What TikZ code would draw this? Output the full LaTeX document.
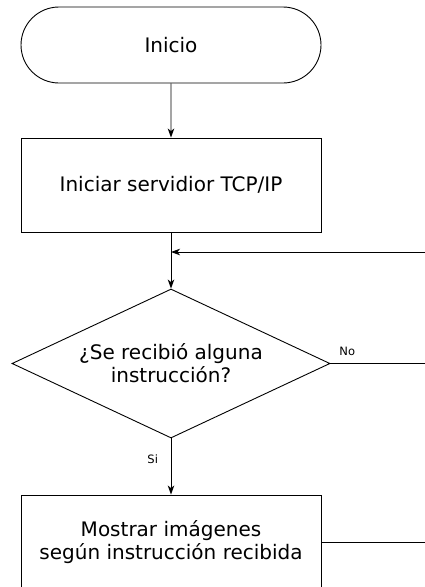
\documentclass[tikz,border=0pt]{standalone}
\usepackage{fontspec}
\setmainfont{DejaVu Sans}
\usetikzlibrary{arrows.meta,shapes.geometric,shapes.misc}

\begin{document}
\begin{tikzpicture}[x=1pt,y=-1pt,
  line width=0.9pt,
  every node/.style={inner sep=0pt},
  txt/.style={font=\fontsize{20}{23}\selectfont, align=center},
  terminal/.style={rounded rectangle, draw, txt, minimum width=300pt, minimum height=76pt},
  process/.style={rectangle, draw, txt, minimum width=300pt, minimum height=94pt},
  decision/.style={diamond, draw, txt, shape aspect=2.134, minimum width=318pt, minimum height=149pt},
  flow/.style={-{Stealth[length=9pt,width=6.5pt,inset=2.5pt]}},
  lbl/.style={font=\fontsize{11.5}{13}\selectfont}
]
\useasboundingbox (0,0) rectangle (425,587);
\clip (0,0) rectangle (425,587);

% flowchart blocks
\node[terminal] (start) at (171,45)    {Inicio};
\node[process]  (init)  at (171,185)   {Iniciar servidior TCP/IP};
\node[decision] (ask)   at (171,363.5) {¿Se recibió alguna\\instrucción?};
\node[process]  (show)  at (171,542)   {Mostrar imágenes\\según instrucción recibida};

% loose ends at the right margin
\coordinate (back) at (425,252);
\coordinate (noend) at (425,363.5);
\coordinate (showend) at (425,542);

% connectors
\draw[flow] (start) -- (init);
\draw[flow] (init) -- (ask);
\draw[flow] (back) -- (back -| init.south);
\draw (ask.east) -- (noend);
\draw[flow] (ask) -- (show);
\draw (show.east) -- (showend);

% branch labels
\node[lbl, anchor=base west] (no) at (339,355) {No};
\node[lbl, anchor=base west] (si) at (147,463) {Si};
\end{tikzpicture}
\end{document}
